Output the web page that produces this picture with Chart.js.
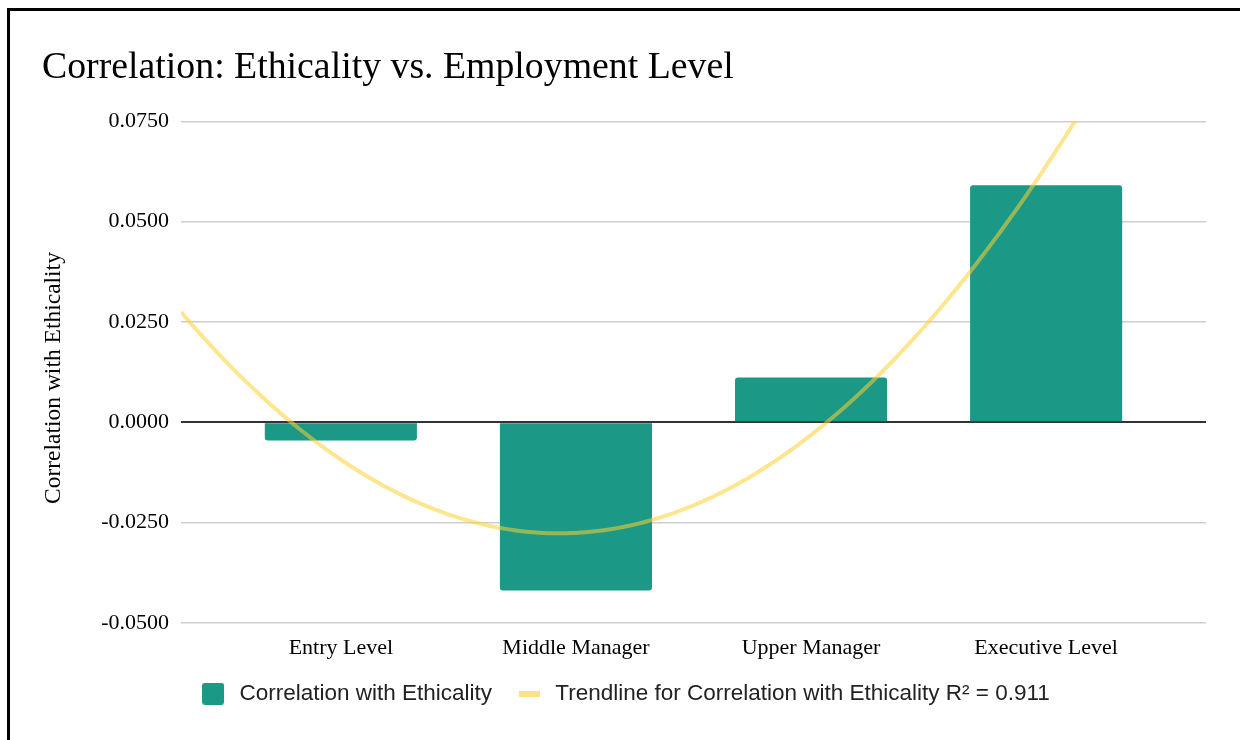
<!DOCTYPE html>
<html>
<head>
<meta charset="utf-8">
<script src="https://cdn.jsdelivr.net/npm/chart.js@4/dist/chart.umd.min.js"></script>
<style>
  html, body { margin: 0; padding: 0; background: #fff; overflow: hidden; }
  #wrap { position: absolute; left: 0; top: 0; width: 1240px; height: 740px; }
  #frame { position: absolute; left: 7px; top: 8px; width: 1300px; height: 800px;
           border: 3px solid #000; pointer-events: none; }
</style>
</head>
<body>
<div id="wrap"><canvas id="myChart"></canvas></div>
<div id="frame"></div>
<script>
const levels = ['Entry Level', 'Middle Manager', 'Upper Manager', 'Executive Level'];
const correlation = [-0.0045, -0.0419, 0.0112, 0.0591];
const yTicks = [-0.05, -0.025, 0, 0.025, 0.05, 0.075];

const teal = '#1b9886';
const trendColor = 'rgba(251, 210, 50, 0.55)';
const serif = '"Liberation Serif", "Times New Roman", serif';

// polynomial (order 2) trendline, least squares on the bar values
function quadFit(xs, ys) {
  const n = xs.length;
  const xm = xs.reduce((a, b) => a + b, 0) / n;
  const u = xs.map(x => x - xm);
  const u2m = u.reduce((a, b) => a + b * b, 0) / n;
  const p2 = u.map(v => v * v - u2m);
  const ym = ys.reduce((a, b) => a + b, 0) / n;
  const b1 = ys.reduce((a, y, i) => a + y * u[i], 0) / u.reduce((a, v) => a + v * v, 0);
  const b2 = ys.reduce((a, y, i) => a + y * p2[i], 0) / p2.reduce((a, v) => a + v * v, 0);
  return x => ym + b1 * (x - xm) + b2 * ((x - xm) * (x - xm) - u2m);
}
const xIdx = levels.map((_, i) => i);
const trend = quadFit(xIdx, correlation);
const xMin = -0.68, xMax = 3.68;
const trendPoints = [];
for (let k = 0; k <= 218; k++) {
  const x = xMin + k * 0.02;
  trendPoints.push({ x: x, y: trend(x) });
}

// legend markers
function marker(w, h, r, color) {
  const c = document.createElement('canvas');
  c.width = w; c.height = h;
  const g = c.getContext('2d');
  g.fillStyle = color;
  g.beginPath();
  g.roundRect(0, 0, w, h, r);
  g.fill();
  return c;
}
const barMarker = marker(22, 22, 3, teal);
const lineMarker = marker(21, 6, 0, 'rgba(252, 222, 120, 0.9)');

new Chart('myChart', {
  type: 'bar',
  data: {
    datasets: [{
      label: 'Correlation with Ethicality',
      data: correlation.map((v, i) => ({ x: i, y: v })),
      backgroundColor: teal,
      borderRadius: 3,
      barPercentage: 0.647,
      categoryPercentage: 1,
      order: 1
    }, {
      type: 'line',
      label: 'Trendline for Correlation with Ethicality R\u00b2 = 0.911',
      data: trendPoints,
      borderColor: trendColor,
      borderWidth: 4,
      pointRadius: 0,
      tension: 0,
      fill: false,
      order: 0
    }]
  },
  options: {
    responsive: true,
    maintainAspectRatio: false,
    animation: false,
    layout: { padding: { left: 42, right: 34, top: 0, bottom: 25 } },
    scales: {
      x: {
        type: 'linear',
        min: xMin,
        max: xMax,
        offset: false,
        grid: { display: false },
        border: { display: false },
        afterBuildTicks: s => { s.ticks = xIdx.map(i => ({ value: i })); },
        afterFit: s => { s.height = 37.5; },
        ticks: {
          padding: 4,
          color: '#000',
          font: { family: serif, size: 22 },
          callback: v => levels[v]
        }
      },
      y: {
        min: -0.05,
        max: 0.075,
        afterBuildTicks: s => { s.ticks = yTicks.map(v => ({ value: v })); },
        afterFit: s => { s.width = 139; },
        border: { display: false },
        grid: {
          drawTicks: false,
          color: c => (c.tick && Math.abs(c.tick.value) < 1e-9) ? '#333' : '#cfcfcf',
          lineWidth: c => (c.tick && Math.abs(c.tick.value) < 1e-9) ? 2 : 1.5
        },
        ticks: {
          padding: 12,
          color: '#000',
          font: { family: serif, size: 22 },
          callback: v => v.toFixed(4)
        },
        title: {
          display: true,
          text: 'Correlation with Ethicality  ',
          color: '#000',
          font: { family: serif, size: 23.5, lineHeight: 1 },
          padding: 0
        }
      }
    },
    plugins: {
      title: {
        display: true,
        text: 'Correlation: Ethicality vs. Employment Level',
        align: 'start',
        color: '#000',
        font: { family: serif, size: 37.8, weight: 'normal' },
        padding: { top: 45, bottom: 31 }
      },
      legend: {
        position: 'bottom',
        labels: {
          usePointStyle: true,
          pointStyleWidth: 30,
          padding: 22,
          color: '#222',
          font: { family: '"Liberation Sans", Arial, sans-serif', size: 22.5 },
          sort: (a, b) => a.datasetIndex - b.datasetIndex,
          generateLabels: chart => {
            const items = Chart.defaults.plugins.legend.labels.generateLabels(chart);
            items.forEach(it => { it.pointStyle = it.datasetIndex === 0 ? barMarker : lineMarker; });
            return items;
          }
        }
      },
      tooltip: { enabled: false }
    }
  }
});
</script>
</body>
</html>
